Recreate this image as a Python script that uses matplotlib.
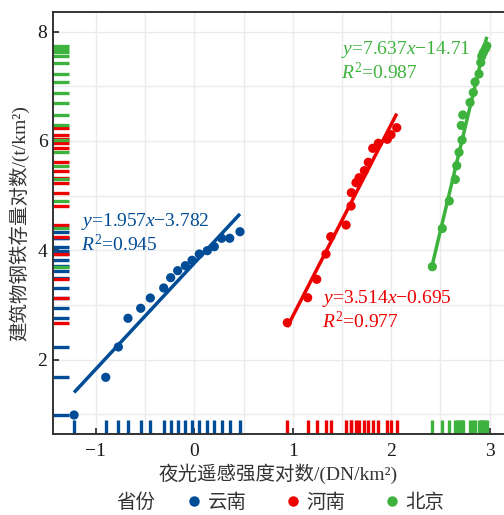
import numpy as np
import matplotlib
matplotlib.use("Agg")
import matplotlib.pyplot as plt
from matplotlib.lines import Line2D
from matplotlib.ticker import MultipleLocator, FixedLocator

# ---------------- data ----------------
provinces = ["云南", "河南", "北京"]
colors = ["#004c97", "#ec0000", "#3db33d"]

yunnan_x = [-1.222, -0.900, -0.772, -0.674, -0.545, -0.447, -0.311, -0.240, -0.169,
            -0.091, -0.023, 0.051, 0.132, 0.203, 0.278, 0.360, 0.464]
yunnan_y = [0.986, 1.676, 2.231, 2.756, 2.939, 3.127, 3.310, 3.499, 3.627,
            3.718, 3.817, 3.932, 3.993, 4.066, 4.220, 4.220, 4.340]

henan_x = [0.945, 1.152, 1.244, 1.338, 1.386, 1.542, 1.593, 1.596, 1.643,
           1.674, 1.728, 1.768, 1.813, 1.870, 1.961, 1.999, 2.057]
henan_y = [2.675, 3.133, 3.469, 3.932, 4.249, 4.463, 4.811, 5.054, 5.237,
           5.328, 5.457, 5.610, 5.866, 5.958, 6.031, 6.115, 6.243]

beijing_x = [2.419, 2.520, 2.591, 2.652, 2.667, 2.690, 2.721, 2.713, 2.728,
             2.802, 2.835, 2.853, 2.893, 2.911, 2.921, 2.937, 2.957, 2.972]
beijing_y = [3.700, 4.399, 4.902, 5.296, 5.548, 5.793, 6.018, 6.284, 6.476,
             6.704, 6.887, 7.080, 7.226, 7.436, 7.550, 7.619, 7.683, 7.738]

eq_texts = ["=1.957", "=3.514", "=7.637"]
eq_tails = ["\u22123.782", "\u22120.695", "\u221214.71"]
r2_texts = ["=0.945", "=0.977", "=0.987"]

x_ticks = [-1, 0, 1, 2, 3]
y_ticks = [2, 4, 6, 8]
x_label = "夜光遥感强度对数/(DN/km²)"
y_label = "建筑物钢铁存量对数/(t/km²)"
legend_title = "省份"

# ---------------- style ----------------
plt.rcParams["font.family"] = ["Liberation Serif", "Noto Sans CJK SC", "DejaVu Sans"]
plt.rcParams["mathtext.fontset"] = "custom"
plt.rcParams["mathtext.rm"] = "Liberation Serif"
plt.rcParams["mathtext.it"] = "Liberation Serif:italic"
plt.rcParams["axes.unicode_minus"] = True

FS = 14
fig = plt.figure(figsize=(5.04, 5.15), dpi=100)
ax = fig.add_axes([53 / 504, 1 - 433.5 / 515, 1 - 53 / 504, (433.5 - 12) / 515])

ax.set_xlim(-1.436, 3.147)
ax.set_ylim(0.648, 8.36)

ax.xaxis.set_major_locator(FixedLocator(x_ticks))
ax.yaxis.set_major_locator(FixedLocator(y_ticks))
ax.xaxis.set_minor_locator(MultipleLocator(0.5))
ax.yaxis.set_minor_locator(MultipleLocator(1))
ax.grid(True, which="both", color="#ebebeb", lw=1.0, zorder=0)
ax.set_axisbelow(True)

ax.tick_params(which="major", direction="in", length=4, width=1.3, color="#333333",
               labelsize=FS, labelcolor="#1a1a1a")
ax.tick_params(which="minor", length=0)
ax.tick_params(axis="x", pad=7)
ax.tick_params(axis="y", pad=4)
for s in ["left", "bottom", "top"]:
    ax.spines[s].set_color("#333333")
    ax.spines[s].set_linewidth(1.4)
ax.spines["right"].set_visible(False)

groups = [(yunnan_x, yunnan_y), (henan_x, henan_y), (beijing_x, beijing_y)]

# rugs
for (gx, gy), c in zip(groups, colors):
    ax.vlines(gx, 0, 0.031, transform=ax.get_xaxis_transform(), colors=c, lw=2.4, zorder=2)
    ax.hlines(gy, 0, 0.035, transform=ax.get_yaxis_transform(), colors=c, lw=2.4, zorder=2)

# points and fitted lines
for (gx, gy), c in zip(groups, colors):
    gx = np.asarray(gx); gy = np.asarray(gy)
    ax.scatter(gx, gy, s=44, color=c, edgecolors="none", zorder=4)
    k, b = np.polyfit(gx, gy, 1)
    xs = np.array([gx.min(), gx.max()])
    ax.plot(xs, k * xs + b, color=c, lw=2.5, solid_capstyle="butt", zorder=3)

# equations
eq_pos = [(-1.155, 4.518, 4.115), (1.301, 3.127, 2.694), (1.491, 7.678, 7.25)]
for (px, py1, py2), c, e, t, r in zip(eq_pos, colors, eq_texts, eq_tails, r2_texts):
    ax.text(px, py1, r"$\mathit{y}$" + e + r"$\mathit{x}$" + t, color=c, fontsize=FS,
            ha="left", va="center", zorder=5)
    ax.text(px, py2, r"$\mathit{R}^{2}$" + r, color=c, fontsize=FS,
            ha="left", va="center", zorder=5)

ax.set_xlabel(x_label, fontsize=FS, color="#333333", labelpad=2)
ax.set_ylabel(y_label, fontsize=FS, color="#333333", labelpad=6)

# legend
fig.text(116 / 504, 1 - 502 / 515, legend_title, fontsize=FS, color="#333333",
         ha="left", va="center", family=["Noto Sans CJK SC"])
handles = [Line2D([], [], ls="none", marker="o", ms=7.5, color=c, mec="none") for c in colors]
leg = fig.legend(handles, provinces, loc="center", bbox_to_anchor=(316.4 / 504, 1 - 502 / 515),
                 ncol=3, frameon=False, handlelength=0.6, handletextpad=0.4,
                 columnspacing=2.09, prop={"family": ["Noto Sans CJK SC"], "size": FS})
for t in leg.get_texts():
    t.set_color("#333333")

fig.savefig("out.png", dpi=100)
